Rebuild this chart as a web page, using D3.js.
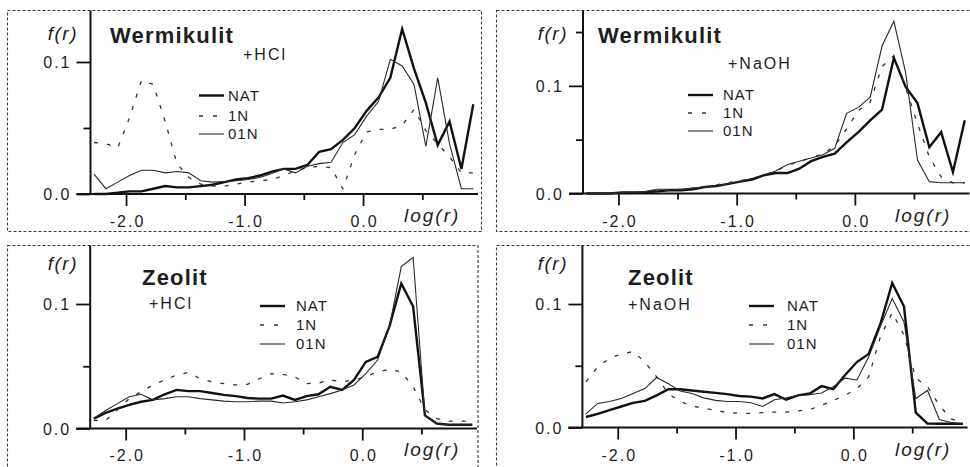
<!DOCTYPE html>
<html>
<head>
<meta charset="utf-8">
<script src="https://cdn.jsdelivr.net/npm/d3@7"></script>
<style>
  html, body { margin: 0; padding: 0; background: #fff; }
  svg { display: block; }
  text { font-family: "Liberation Sans", Arial, sans-serif; fill: #1e1e1e; }
</style>
</head>
<body>
<svg id="chart" width="970" height="467"></svg>
<script>
// log(r) sampling positions shared by every curve
const logR = [-2.27, -2.17, -2.07, -1.97, -1.87, -1.77, -1.67, -1.57, -1.47, -1.37, -1.27,
              -1.17, -1.07, -0.97, -0.87, -0.77, -0.67, -0.57, -0.47, -0.37, -0.27, -0.17,
              -0.07, 0.03, 0.13, 0.23, 0.33, 0.43, 0.53, 0.63, 0.73, 0.83, 0.93];

const seriesNames = ["NAT", "1N", "01N"];
const xTickLabels = [-2.0, -1.0, 0.0];
const xMinorTicks = [-1.5, -0.5, 0.5];

// Wermikulit + HCl
const wermHclNat = [0.000, 0.000, 0.001, 0.002, 0.002, 0.004, 0.006, 0.005, 0.005, 0.006, 0.007,
                    0.009, 0.011, 0.012, 0.014, 0.017, 0.019, 0.019, 0.022, 0.032, 0.034, 0.041,
                    0.050, 0.063, 0.073, 0.088, 0.125, 0.095, 0.069, 0.037, 0.055, 0.019, 0.068];
const wermHcl1N  = [0.039, 0.038, 0.035, 0.058, 0.086, 0.083, 0.055, 0.023, 0.0125, 0.0075, 0.006,
                    0.006, 0.0075, 0.009, 0.010, 0.011, 0.014, 0.0175, 0.020, 0.021, 0.020, 0.004,
                    0.030, 0.047, 0.049, 0.049, 0.052, 0.064, 0.048, 0.038, 0.028, 0.016, 0.016];
const wermHcl01N = [0.015, 0.004, 0.009, 0.014, 0.018, 0.018, 0.016, 0.017, 0.016, 0.010, 0.009,
                    0.0095, 0.010, 0.011, 0.0125, 0.0155, 0.019, 0.016, 0.021, 0.023, 0.024, 0.039,
                    0.045, 0.059, 0.070, 0.102, 0.097, 0.083, 0.036, 0.088, 0.038, 0.004, 0.004];

// Wermikulit + NaOH
const wermNaohNat = [0.000, 0.000, 0.000, 0.001, 0.001, 0.001, 0.002, 0.003, 0.003, 0.004, 0.006,
                     0.007, 0.009, 0.011, 0.013, 0.017, 0.019, 0.019, 0.023, 0.030, 0.034, 0.037,
                     0.0475, 0.057, 0.068, 0.078, 0.126, 0.099, 0.084, 0.043, 0.057, 0.020, 0.068];
const wermNaoh1N  = [0.000, 0.000, 0.000, 0.001, 0.001, 0.002, 0.003, 0.003, 0.004, 0.005, 0.006,
                     0.008, 0.010, 0.012, 0.014, 0.017, 0.021, 0.026, 0.030, 0.033, 0.037, 0.044,
                     0.060, 0.077, 0.085, 0.118, 0.128, 0.098, 0.065, 0.034, 0.0155, 0.010, 0.010];
const wermNaoh01N = [0.000, 0.000, 0.000, 0.001, 0.001, 0.002, 0.004, 0.004, 0.004, 0.005, 0.006,
                     0.007, 0.009, 0.011, 0.014, 0.017, 0.021, 0.027, 0.030, 0.033, 0.036, 0.042,
                     0.0745, 0.080, 0.0895, 0.137, 0.160, 0.112, 0.031, 0.011, 0.010, 0.010, 0.010];

// Zeolit + HCl
const zeolHclNat = [0.008, 0.0125, 0.016, 0.019, 0.0215, 0.023, 0.0275, 0.031, 0.030, 0.030, 0.0285,
                    0.027, 0.026, 0.0245, 0.024, 0.024, 0.0265, 0.023, 0.026, 0.0275, 0.0335, 0.031,
                    0.039, 0.0535, 0.0575, 0.082, 0.1165, 0.098, 0.0105, 0.004, 0.003, 0.003, 0.003];
const zeolHcl1N  = [0.0065, 0.0065, 0.015, 0.024, 0.0295, 0.035, 0.039, 0.043, 0.045, 0.040, 0.0375,
                    0.036, 0.035, 0.0355, 0.040, 0.044, 0.0435, 0.0415, 0.036, 0.0365, 0.039, 0.0375,
                    0.039, 0.0415, 0.0455, 0.0475, 0.0455, 0.0335, 0.015, 0.008, 0.006, 0.006, 0.006];
const zeolHcl01N = [0.008, 0.0145, 0.020, 0.0255, 0.0275, 0.023, 0.024, 0.0255, 0.0255, 0.024, 0.023,
                    0.022, 0.0215, 0.0215, 0.022, 0.022, 0.0205, 0.0215, 0.023, 0.0255, 0.028, 0.031,
                    0.035, 0.044, 0.055, 0.082, 0.130, 0.1375, 0.0105, 0.004, 0.003, 0.003, 0.003];

// Zeolit + NaOH
const zeolNaohNat = [0.0085, 0.011, 0.014, 0.017, 0.020, 0.0215, 0.026, 0.031, 0.031, 0.030, 0.029,
                     0.028, 0.027, 0.0255, 0.025, 0.0235, 0.027, 0.0225, 0.026, 0.0275, 0.0335, 0.031,
                     0.0425, 0.053, 0.0595, 0.084, 0.117, 0.098, 0.012, 0.0032, 0.003, 0.003, 0.003];
const zeolNaoh1N  = [0.037, 0.049, 0.056, 0.0595, 0.0615, 0.053, 0.041, 0.0275, 0.021, 0.0175, 0.0155,
                     0.014, 0.012, 0.0115, 0.0115, 0.012, 0.0125, 0.0125, 0.0135, 0.0145, 0.018, 0.022,
                     0.026, 0.0315, 0.041, 0.0735, 0.093, 0.075, 0.040, 0.033, 0.018, 0.007, 0.004];
const zeolNaoh01N = [0.011, 0.0195, 0.021, 0.0235, 0.0275, 0.0315, 0.0405, 0.0355, 0.0295, 0.0275, 0.024,
                     0.022, 0.021, 0.021, 0.020, 0.017, 0.0225, 0.024, 0.026, 0.0265, 0.028, 0.033,
                     0.040, 0.0385, 0.057, 0.082, 0.1045, 0.0855, 0.0235, 0.030, 0.0065, 0.004, 0.003];

const svg = d3.select("#chart");

// line styles per series: NAT heavy, 1N sparse dashes, 01N thin
const styles = {
  "NAT": { width: 2.4, dash: null, color: "#111" },
  "1N":  { width: 1.3, dash: "4,9", color: "#333" },
  "01N": { width: 1.1, dash: null, color: "#2a2a2a" }
};

const panels = [
  { title: "Wermikulit", sub: "+HCl", data: [wermHclNat, wermHcl1N, wermHcl01N],
    box: [7.5, 10.5, 474, 221], xr: [90.5, 478], y0: 194, yTop: 10.5, yMax: 0.139,
    yMinor: [0.05], titlePos: [110, 43], subPos: [243, 60],
    legend: { x: 199, tx: 228, rows: [95.5, 116, 134] }, fr: [78, 40], xLab: 227, logLab: [404, 222] },
  { title: "Wermikulit", sub: "+NaOH", data: [wermNaohNat, wermNaoh1N, wermNaoh01N],
    box: [496.5, 10.5, 480, 221], xr: [583, 969.5], y0: 193.5, yTop: 10.5, yMax: 0.170,
    yMinor: [0.05, 0.15], titlePos: [598, 43], subPos: [728, 69],
    legend: { x: 688, tx: 723, rows: [95, 113, 131] }, fr: [568, 40], xLab: 227, logLab: [895, 222] },
  { title: "Zeolit", sub: "+HCl", data: [zeolHclNat, zeolHcl1N, zeolHcl01N],
    box: [7.5, 245.5, 470.5, 230], xr: [90.2, 477], y0: 428.5, yTop: 245.5, yMax: 0.147,
    yMinor: [0.05], titlePos: [142, 285], subPos: [149, 309],
    legend: { x: 260, tx: 296, rows: [306, 325, 344] }, fr: [78, 270], xLab: 461, logLab: [404, 456] },
  { title: "Zeolit", sub: "+NaOH", data: [zeolNaohNat, zeolNaoh1N, zeolNaoh01N],
    box: [496.5, 245.5, 480, 230], xr: [582.4, 967.6], y0: 427.5, yTop: 245.5, yMax: 0.1474,
    yMinor: [0.05], titlePos: [628, 285], subPos: [628, 310],
    legend: { x: 749, tx: 787, rows: [306, 325, 344] }, fr: [568, 270], xLab: 461, logLab: [895, 456] }
];

panels.forEach(p => {
  const g = svg.append("g");

  // dashed frame
  g.append("rect")
    .attr("x", p.box[0]).attr("y", p.box[1])
    .attr("width", p.box[2]).attr("height", p.box[3])
    .attr("fill", "none").attr("stroke", "#3a3a3a")
    .attr("stroke-width", 1.1).attr("stroke-dasharray", "3,2");

  const x = d3.scaleLinear().domain([-2.3, 0.97]).range(p.xr);
  const y = d3.scaleLinear().domain([0, p.yMax]).range([p.y0, p.yTop]);

  // x axis: labelled majors and short unlabelled minors
  const xAxis = g.append("g").attr("transform", `translate(0,${p.y0})`)
    .call(d3.axisBottom(x).tickValues(xTickLabels).tickSize(12).tickSizeOuter(0)
      .tickFormat(d => d.toFixed(1)));
  xAxis.select(".domain").remove();
  xAxis.selectAll("text").attr("y", p.xLab - p.y0).attr("dy", null).attr("dx", "1px")
    .style("font-size", "16px").style("letter-spacing", "2px");
  xAxis.selectAll("line").attr("stroke", "#111").attr("stroke-width", 1.8);

  const xMinor = g.append("g").attr("transform", `translate(0,${p.y0})`)
    .call(d3.axisBottom(x).tickValues(xMinorTicks).tickSize(6).tickFormat(""));
  xMinor.select(".domain").remove();
  xMinor.selectAll("line").attr("stroke", "#111").attr("stroke-width", 1.8);

  // baseline of the x axis, running left to meet the 0.0 tick
  g.append("line")
    .attr("x1", p.xr[0] - 14).attr("x2", p.xr[1])
    .attr("y1", p.y0).attr("y2", p.y0)
    .attr("stroke", "#111").attr("stroke-width", 2);

  // y axis
  const yAxis = g.append("g").attr("transform", `translate(${p.xr[0]},0)`)
    .call(d3.axisLeft(y).tickValues([0, 0.1]).tickSize(14).tickSizeOuter(0)
      .tickPadding(5).tickFormat(d => d.toFixed(1)));
  yAxis.select(".domain").remove();
  yAxis.selectAll("text").style("font-size", "16px").style("letter-spacing", "2px")
    .attr("dy", "0.36em");
  yAxis.selectAll("line").attr("stroke", "#111").attr("stroke-width", 1.8);

  const yMinor = g.append("g").attr("transform", `translate(${p.xr[0]},0)`)
    .call(d3.axisLeft(y).tickValues(p.yMinor).tickSize(7).tickFormat(""));
  yMinor.select(".domain").remove();
  yMinor.selectAll("line").attr("stroke", "#111").attr("stroke-width", 1.8);

  g.append("line")
    .attr("x1", p.xr[0]).attr("x2", p.xr[0])
    .attr("y1", p.yTop).attr("y2", p.y0)
    .attr("stroke", "#111").attr("stroke-width", 2);

  // curves
  const line = d3.line().x((d, i) => x(logR[i])).y(d => y(d));
  seriesNames.forEach((name, k) => {
    const s = styles[name];
    g.append("path")
      .datum(p.data[k])
      .attr("d", line)
      .attr("fill", "none")
      .attr("stroke", s.color)
      .attr("stroke-width", s.width)
      .attr("stroke-linejoin", "miter")
      .attr("stroke-dasharray", s.dash);
  });

  // legend
  seriesNames.forEach((name, k) => {
    const s = styles[name];
    const ly = p.legend.rows[k];
    g.append("line")
      .attr("x1", p.legend.x).attr("x2", p.legend.x + 25)
      .attr("y1", ly).attr("y2", ly)
      .attr("stroke", s.color).attr("stroke-width", s.width)
      .attr("stroke-dasharray", name === "1N" ? "4,10" : null);
    g.append("text")
      .attr("x", p.legend.tx).attr("y", ly).attr("dy", "0.36em")
      .style("font-size", "15px").style("letter-spacing", "1px")
      .text(name);
  });

  // titles
  g.append("text")
    .attr("x", p.titlePos[0]).attr("y", p.titlePos[1])
    .style("font-size", "22px").style("font-weight", "bold").style("letter-spacing", "1.2px")
    .text(p.title);
  g.append("text")
    .attr("x", p.subPos[0]).attr("y", p.subPos[1])
    .style("font-size", "16px").style("letter-spacing", "2px")
    .text(p.sub);

  // axis names
  g.append("text")
    .attr("x", p.fr[0]).attr("y", p.fr[1]).attr("text-anchor", "end")
    .style("font-size", "19px").style("font-style", "italic").style("letter-spacing", "1.5px")
    .text("f(r)");
  g.append("text")
    .attr("x", p.logLab[0]).attr("y", p.logLab[1])
    .style("font-size", "19px").style("font-style", "italic").style("letter-spacing", "2px")
    .text("log(r)");
});
</script>
</body>
</html>
